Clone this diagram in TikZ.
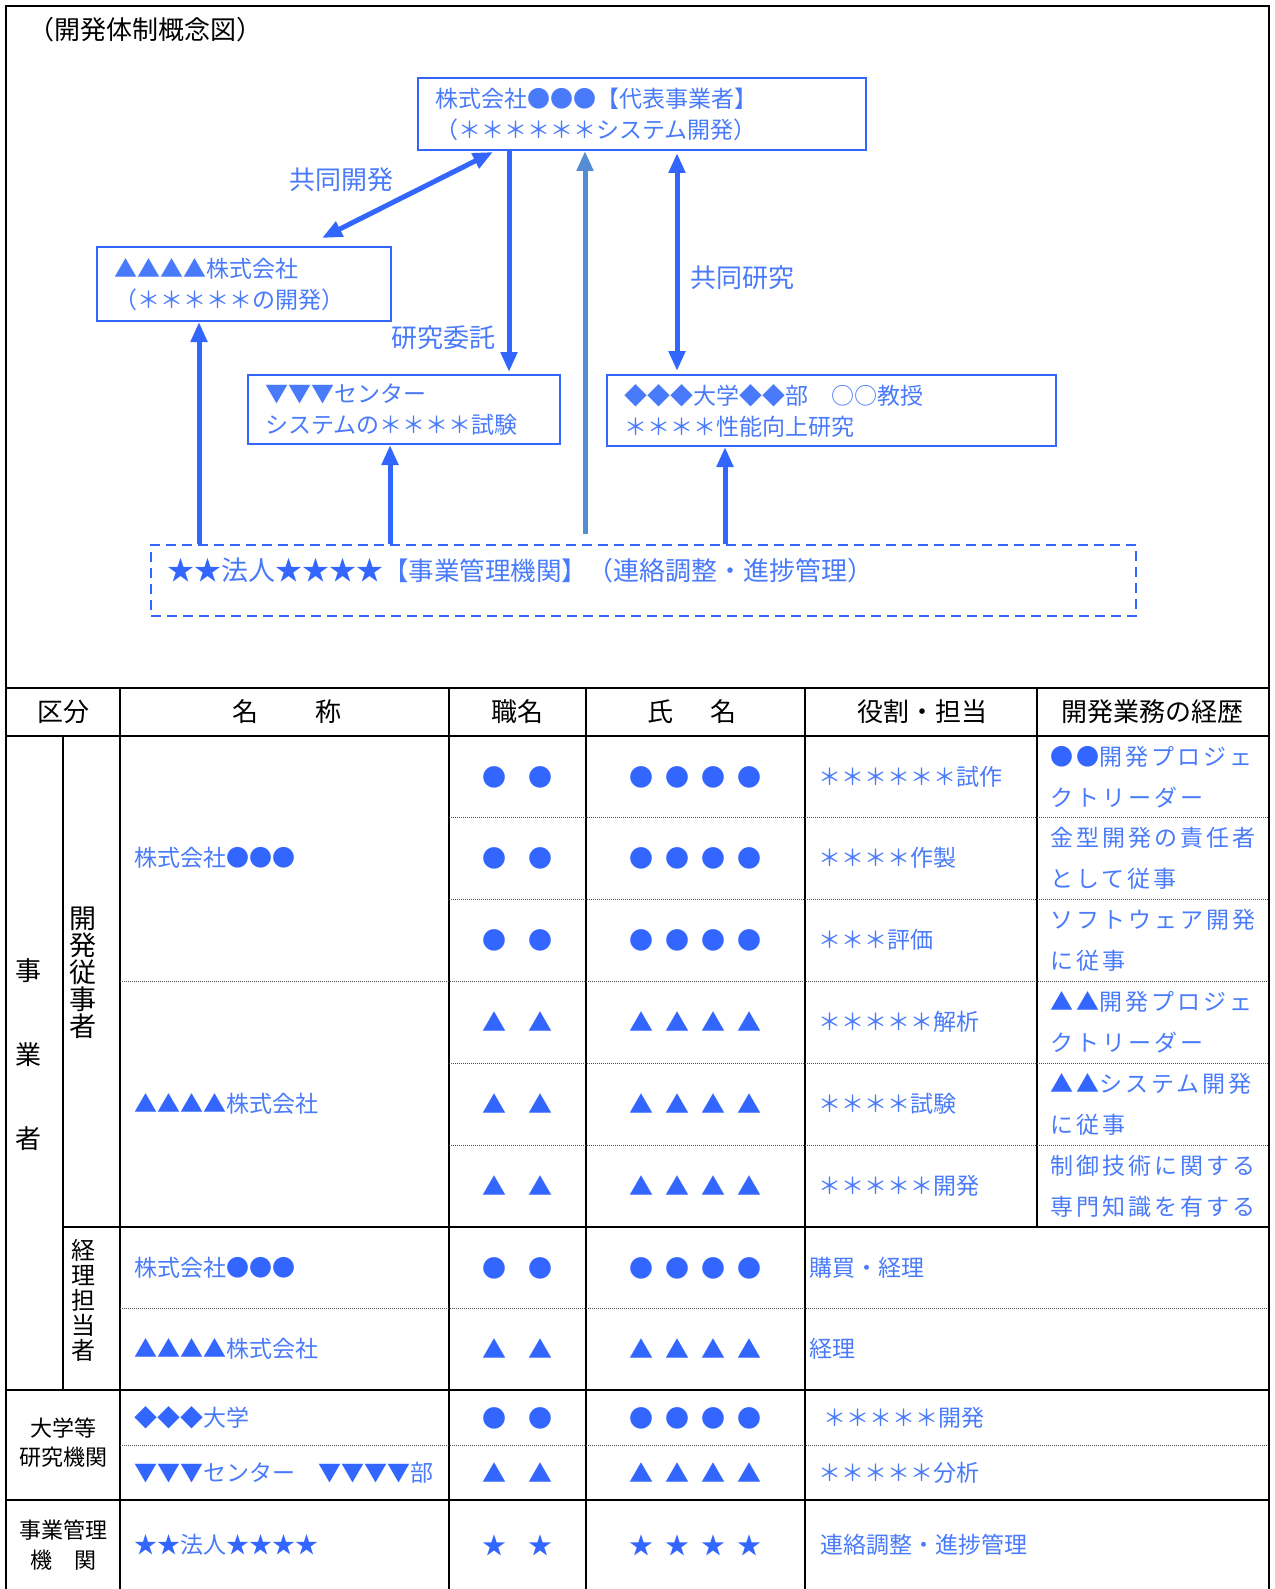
\documentclass[tikz,border=0pt]{standalone}
\usepackage{fontspec}
\setmainfont{Noto Sans CJK JP}
\usetikzlibrary{arrows.meta}
\definecolor{cblue}{RGB}{51,102,255}
\definecolor{ctext}{RGB}{72,122,250}
\definecolor{clight}{RGB}{84,141,212}
\newcommand{\fs}[2]{\fontsize{#1}{#2}\selectfont}
\begin{document}
\begin{tikzpicture}[x=1pt,y=-1pt,
  box/.style={draw=cblue, line width=2pt, anchor=north west, inner xsep=17pt, inner ysep=0pt, align=left, text=ctext, font=\fs{23}{31}},
  tipA/.tip={Triangle[length=20pt,width=16pt]},
  arr/.style={draw=cblue, line width=5pt, -tipA},
  dblarr/.style={draw=cblue, line width=5pt, tipA-tipA},
  lbl/.style={text=ctext, font=\fs{26}{26}, inner sep=0pt},
  hdr/.style={text=black, font=\fs{26}{26}, inner sep=0pt},
  vhdr/.style={text=black, inner sep=0pt, align=center},
  cell/.style={text=ctext, font=\fs{23}{23}, inner sep=0pt, anchor=west},
  sym/.style={text=cblue, font=\fs{24}{24}, inner sep=0pt},
  hist/.style={text=ctext, font={\fs{23}{41}\addfontfeature{LetterSpace=13}}, inner sep=0pt, anchor=west, align=left},
  thick line/.style={line width=2.4pt, black},
  dotline/.style={line width=0.9pt, black!70, dash pattern=on 1pt off 1pt}
]
\useasboundingbox (0,0) rectangle (1274,1589);
% outer frame
\draw[thick line] (6,1600) -- (6,6) -- (1269,6) -- (1269,1600);
% title
\node[anchor=west, inner sep=0pt, font=\fs{26}{26}, text=black] (title) at (28,30) {（開発体制概念図）};
% boxes
\node[box, minimum width=448pt, minimum height=72pt, text width=414pt] (top) at (417,77) {株式会社●●●【代表事業者】\\（＊＊＊＊＊＊システム開発）};
\node[box, minimum width=294pt, minimum height=74pt, text width=260pt] (lbox) at (96,246) {▲▲▲▲株式会社\\（＊＊＊＊＊の開発）};
\node[box, minimum width=312pt, minimum height=69pt, text width=278pt] (cbox) at (247,374) {▼▼▼センター\\システムの＊＊＊＊試験};
\node[box, minimum width=449pt, minimum height=71pt, text width=415pt] (rbox) at (606,374) {◆◆◆大学◆◆部　○○教授\\＊＊＊＊性能向上研究};
\node[draw=cblue, line width=2pt, dash pattern=on 10pt off 6pt, anchor=north west, minimum width=985pt, minimum height=71pt, inner sep=0pt] (mgmt) at (150,544) {};
\node[anchor=west, inner sep=0pt] (mgmttxt) at (167,570) {{\color{cblue}\fs{27}{27}★★}{\color{ctext}\fs{27}{27}法人}{\color{cblue}\fs{27}{27}★★★★}{\color{ctext}\fs{25.5}{26}【事業管理機関】}{\color{ctext}\fs{26}{26}（連絡調整・進捗管理）}};
% arrow end points
\coordinate (j1) at (322,238);
\coordinate (j2) at (493,152);
\coordinate (k1) at (509,149);
\coordinate (k2) at (509,372);
\coordinate (m1) at (585,534);
\coordinate (m2) at (585,151);
\coordinate (r1) at (677,153);
\coordinate (r2) at (677,371);
\coordinate (u1) at (199,544);
\coordinate (u2) at (199,322);
\coordinate (v1) at (390,544);
\coordinate (v2) at (390,445);
\coordinate (w1) at (725,544);
\coordinate (w2) at (725,447);
\draw[dblarr] (j1) -- (j2);
\draw[arr] (k1) -- (k2);
\draw[arr, draw=clight] (m1) -- (m2);
\draw[dblarr] (r1) -- (r2);
\draw[arr] (u1) -- (u2);
\draw[arr] (v1) -- (v2);
\draw[arr] (w1) -- (w2);
\node[lbl] (l1) at (341,180) {共同開発};
\node[lbl] (l2) at (443,338) {研究委託};
\node[lbl] (l3) at (742,278) {共同研究};
% table lines
\draw[thick line] (6,688) -- (1269,688);
\draw[thick line] (6,736) -- (1269,736);
\draw[thick line] (63,1227) -- (1269,1227);
\draw[thick line] (6,1390) -- (1269,1390);
\draw[thick line] (6,1500) -- (1269,1500);
\draw[thick line] (63,736) -- (63,1390);
\foreach \x in {120,449,586,805} {\draw[thick line] (\x,688) -- (\x,1600);}
\draw[thick line] (1037,688) -- (1037,1227);
\foreach \y in {817,899,1063,1145} {\draw[dotline] (449,\y) -- (1268,\y);}
\foreach \y in {981,1308,1445} {\draw[dotline] (120,\y) -- (1268,\y);}
% header
\node[hdr] (h1) at (63,712) {区分};
\node[hdr] (h2) at (287,712) {名\hspace{58pt}称};
\node[hdr] (h3) at (517.5,712) {職名};
\node[hdr] (h4) at (692,712) {氏\hspace{38pt}名};
\node[hdr] (h5) at (922,712) {役割・担当};
\node[hdr] (h6) at (1152,712) {開発業務の経歴};
% left vertical headers
\node[vhdr, font=\fs{26}{84}] (g1) at (28,1055) {事\\業\\者};
\node[vhdr, font=\fs{27}{27}] (g2) at (83,973) {開\\発\\従\\事\\者};
\node[vhdr, font=\fs{24}{25}] (g3) at (83,1300) {経\\理\\担\\当\\者};
\node[vhdr, font=\fs{22}{29}] (g4) at (63,1443) {大学等\\研究機関};
\node[vhdr, font=\fs{22}{30}] (g5) at (63,1545) {事業管理\\機　関};
% names
\node[cell] (n1) at (134,858) {株式会社{\color{cblue}●●●}};
\node[cell] (n2) at (134,1104) {{\color{cblue}▲▲▲▲}株式会社};
\node[cell] (n3) at (134,1268) {株式会社{\color{cblue}●●●}};
\node[cell] (n4) at (134,1349) {{\color{cblue}▲▲▲▲}株式会社};
\node[cell] (n5) at (134,1418) {{\color{cblue}◆◆◆}大学};
\node[cell] (n6) at (134,1473) {{\color{cblue}▼▼▼}センター　{\color{cblue}▼▼▼▼}部};
\node[cell] (n7) at (134,1545) {{\color{cblue}★★}法人{\color{cblue}★★★★}};
% symbols
\foreach \y/\s in {777/●,858/●,940/●,1022/▲,1104/▲,1186/▲,1268/●,1349/▲,1418/●,1473/▲,1545/★} {
  \node[sym] (pa\y) at (517.5,\y) {\s\hspace{23pt}\s};
  \node[sym] (pb\y) at (695.5,\y) {\s\hspace{12pt}\s\hspace{12pt}\s\hspace{12pt}\s};
}
% roles
\node[cell] (q1) at (818,777) {＊＊＊＊＊＊試作};
\node[cell] (q2) at (818,858) {＊＊＊＊作製};
\node[cell] (q3) at (818,940) {＊＊＊評価};
\node[cell] (q4) at (818,1022) {＊＊＊＊＊解析};
\node[cell] (q5) at (818,1104) {＊＊＊＊試験};
\node[cell] (q6) at (818,1186) {＊＊＊＊＊開発};
\node[cell] (q7) at (809,1268) {購買・経理};
\node[cell] (q8) at (809,1349) {経理};
\node[cell] (q9) at (823,1418) {＊＊＊＊＊開発};
\node[cell] (q10) at (818,1473) {＊＊＊＊＊分析};
\node[cell] (q11) at (820,1545) {連絡調整・進捗管理};
% history
\node[hist] (c1) at (1050,777) {{\color{cblue}●●}開発プロジェ\\クトリーダー};
\node[hist] (c2) at (1050,858) {金型開発の責任者\\として従事};
\node[hist] (c3) at (1050,940) {ソフトウェア開発\\に従事};
\node[hist] (c4) at (1050,1022) {{\color{cblue}▲▲}開発プロジェ\\クトリーダー};
\node[hist] (c5) at (1050,1104) {{\color{cblue}▲▲}システム開発\\に従事};
\node[hist] (c6) at (1050,1186) {制御技術に関する\\専門知識を有する};
\end{tikzpicture}
\end{document}
